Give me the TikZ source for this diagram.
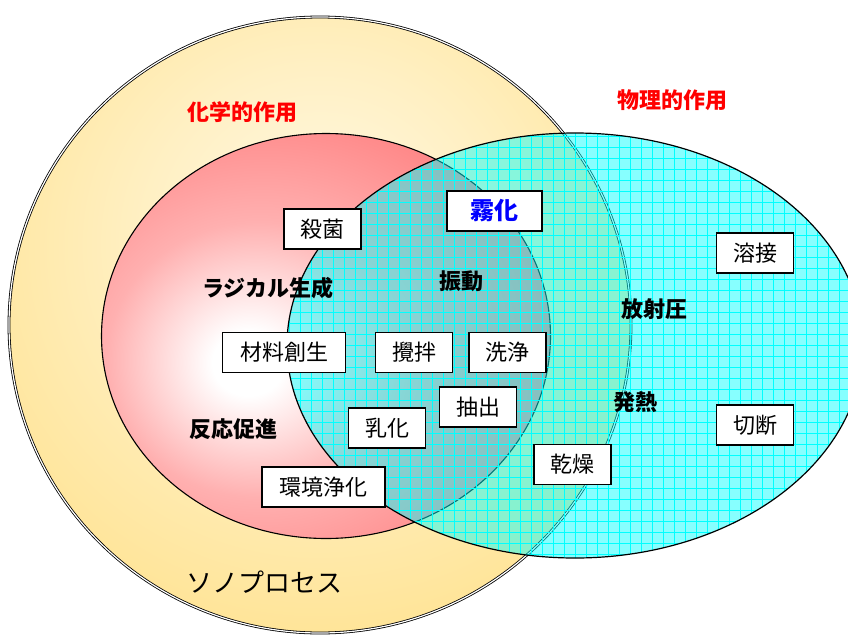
\documentclass[tikz,border=0pt]{standalone}
\usepackage{fontspec}
\setmainfont{Noto Sans CJK JP}
\definecolor{yelC}{HTML}{FFF9E4}
\definecolor{yelB}{HTML}{FFF0C4}
\definecolor{yelA}{HTML}{FFE59A}
\definecolor{yelE}{HTML}{FFDC78}
\definecolor{redC}{HTML}{FFFFFF}
\definecolor{redB}{HTML}{FFB0B0}
\definecolor{redE}{HTML}{FF8080}
\definecolor{cyanF}{HTML}{00FFFF}
\definecolor{blueT}{HTML}{0000FF}
\definecolor{redT}{HTML}{FF0000}
\pgfdeclareradialshading{yelsh}{\pgfpoint{0bp}{8bp}}{color(0bp)=(yelC); color(14bp)=(yelB); color(30bp)=(yelA); color(46bp)=(yelE); color(100bp)=(yelE)}
\pgfdeclareradialshading{redsh}{\pgfpoint{-9bp}{-3.5bp}}{color(0bp)=(redC); color(4bp)=(redC); color(17bp)=(redB); color(33bp)=(redE); color(100bp)=(redE)}
\tikzset{
  box/.style={draw=black, fill=white, line width=1.3pt, minimum height=40pt, minimum width=77pt, inner sep=0pt, font=\fontsize{22pt}{24pt}\selectfont},
  widebox/.style={box, minimum width=123pt},
  boldlabel/.style={inner sep=0pt, font=\fontsize{22pt}{24pt}\selectfont\bfseries},
  redlabel/.style={boldlabel, text=redT},
  gridln/.style={draw=cyanF, line width=0.5pt}
}
\begin{document}
\begin{tikzpicture}[x=1pt, y=-1pt]
\useasboundingbox (0,0) rectangle (848,635);
\clip (0,0) rectangle (848,635);
\fill[white] (0,0) rectangle (848,635);
% outer yellow ellipse (sono process)
\shade[shading=yelsh] (320,325) ellipse [x radius=311pt, y radius=308pt];
\draw[black, line width=0.8pt, double=white, double distance=1.2pt] (320,325) ellipse [x radius=311pt, y radius=308pt];
% red ellipse (chemical)
\shade[shading=redsh] (326,336) ellipse [x radius=224.5pt, y radius=202.5pt];
\draw[black, line width=1.1pt] (326,336) ellipse [x radius=224.5pt, y radius=202.5pt];
% cyan ellipse (physical)
\fill[cyanF, fill opacity=0.47] (575,345.5) ellipse [x radius=288pt, y radius=212.5pt];
\begin{scope}
  \clip (575,345.5) ellipse [x radius=288pt, y radius=212.5pt];
  \begin{scope}[xshift=3pt, yshift=-4pt]
  \draw[gridln, step=11pt] (270,120) grid (880,580);
  \end{scope}
\end{scope}
\draw[black, line width=1.2pt] (575,345.5) ellipse [x radius=288pt, y radius=212.5pt];
% boxes
\node[box] (sakkin) at (322.5,229) {殺菌};
\node[box, minimum width=95pt, font=\fontsize{24pt}{26pt}\selectfont\bfseries, text=blueT] (muka) at (494.5,211) {霧化};
\node[box] (yousetsu) at (755,253) {溶接};
\node[widebox] (zairyou) at (284,352.5) {材料創生};
\node[box] (kakuhan) at (414,352.5) {攪拌};
\node[box] (senjou) at (507.5,352.5) {洗浄};
\node[box] (chuushutsu) at (478,407) {抽出};
\node[box] (nyuuka) at (387,428) {乳化};
\node[box] (setsudan) at (755,425) {切断};
\node[box] (kansou) at (572.5,464.5) {乾燥};
\node[widebox] (kankyou) at (323.5,487) {環境浄化};
% bold labels
\node[boldlabel] (radical) at (268,288) {ラジカル生成};
\node[boldlabel] (shindou) at (461.5,281) {振動};
\node[boldlabel] (houshaatsu) at (654,309) {放射圧};
\node[boldlabel] (hatsunetsu) at (635,402.5) {発熱};
\node[boldlabel] (hannou) at (233,429) {反応促進};
\node[redlabel] (kagaku) at (242.5,112) {化学的作用};
\node[redlabel] (butsuri) at (672.5,100) {物理的作用};
\node[inner sep=0pt, font=\fontsize{26pt}{28pt}\selectfont] (sono) at (264.5,582) {ソノプロセス};
\end{tikzpicture}
\end{document}
